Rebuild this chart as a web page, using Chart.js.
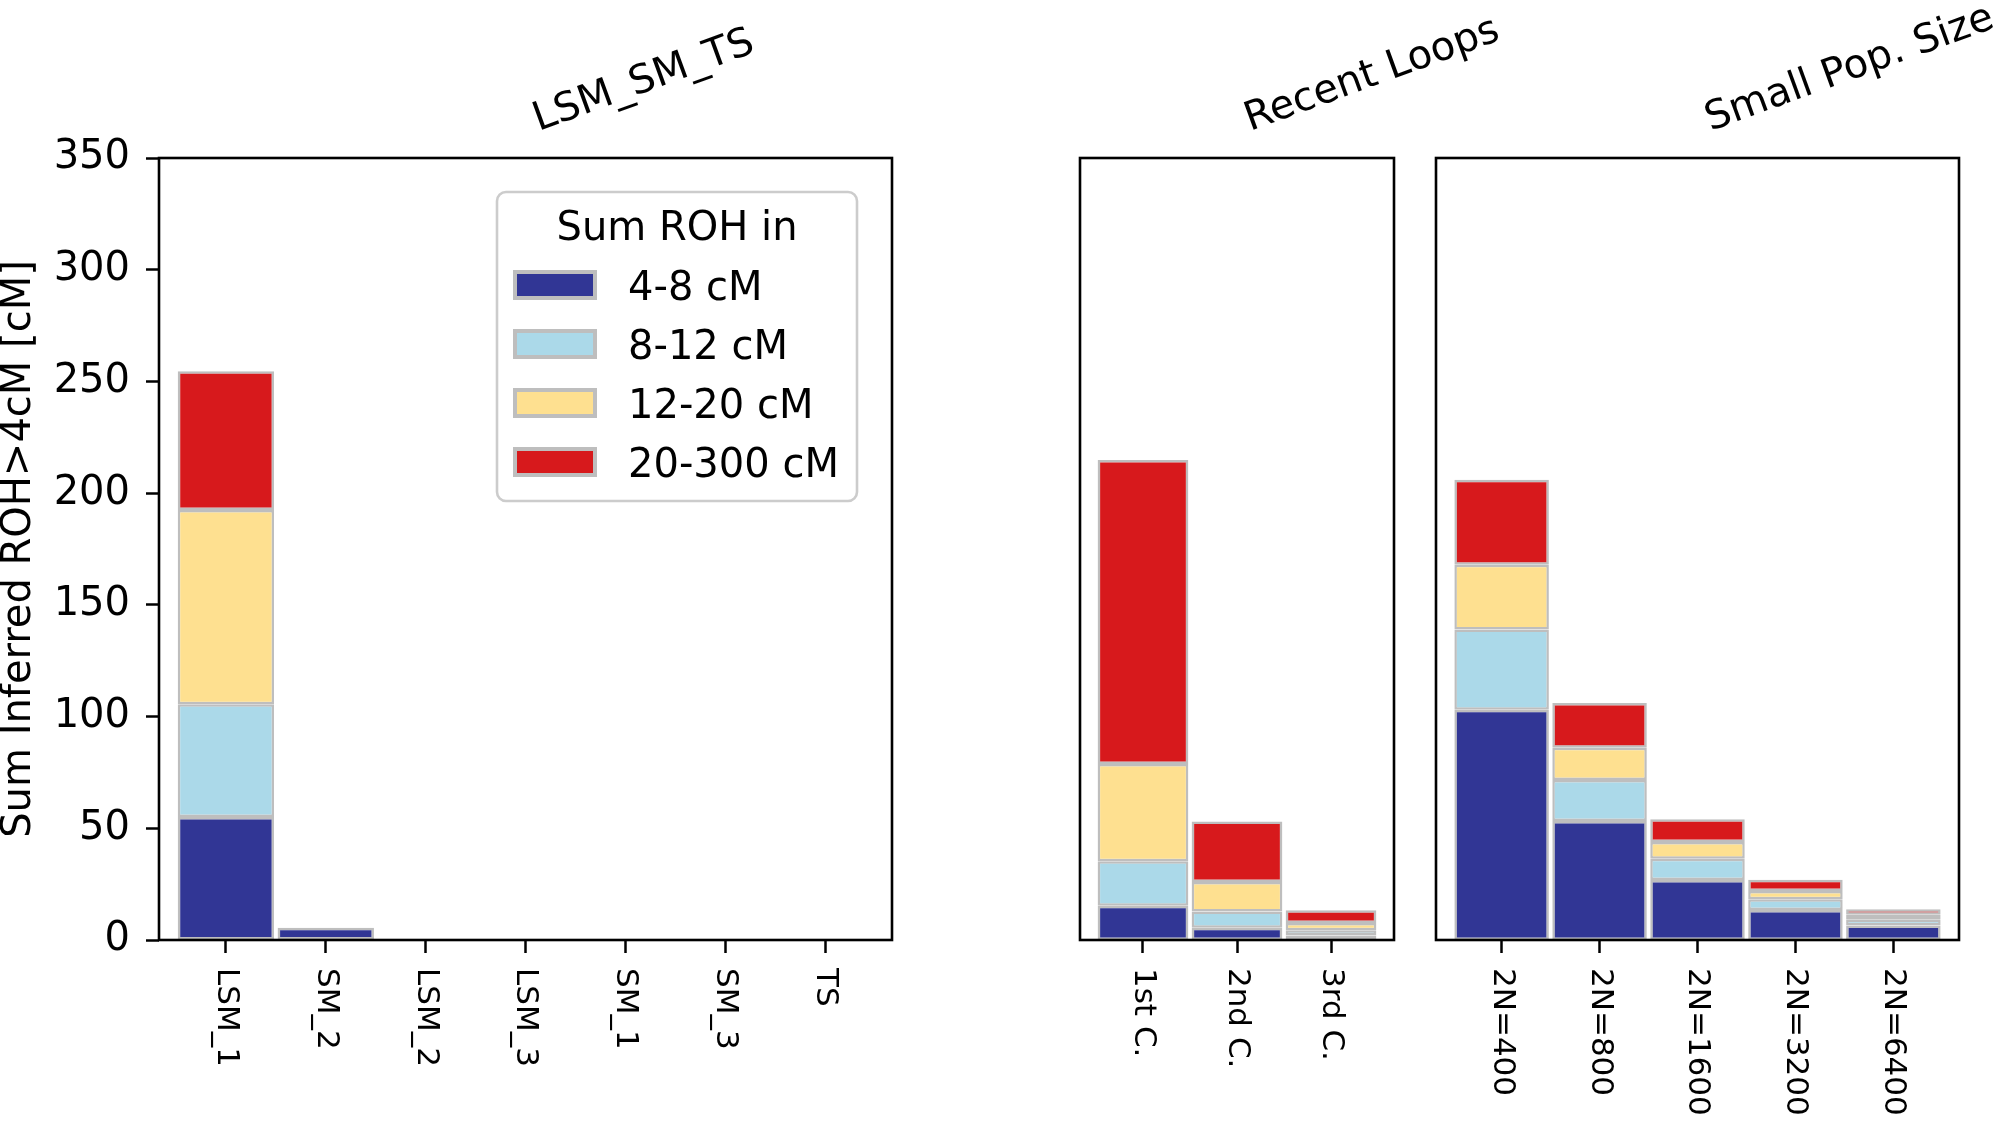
<!DOCTYPE html>
<html>
<head>
<meta charset="utf-8">
<script src="https://cdn.jsdelivr.net/npm/chart.js@4.4.1/dist/chart.umd.min.js"></script>
<style>
html,body{margin:0;padding:0;background:#fff;}
#wrap{position:relative;width:2000px;height:1122px;overflow:hidden;background:#fff;}
#wrap canvas{position:absolute;left:0;top:0;}
</style>
</head>
<body>
<div id="wrap">
  <canvas id="c1" width="2000" height="1122"></canvas>
  <canvas id="c2" width="2000" height="1122"></canvas>
  <canvas id="c3" width="2000" height="1122"></canvas>
</div>
<script>
// ROH length bins (stack order bottom -> top)
const binLabels = ['4-8 cM', '8-12 cM', '12-20 cM', '20-300 cM'];
const binColors = ['#313695', '#abd9e9', '#fee090', '#d7191c'];

// panel 1: LSM_SM_TS
const lsmCats = ['LSM_1', 'SM_2', 'LSM_2', 'LSM_3', 'SM_1', 'SM_3', 'TS'];
const lsm48    = [55,   5.5, 0, 0, 0, 0, 0];
const lsm812   = [50.5, 0,   0, 0, 0, 0, 0];
const lsm1220  = [87,   0,   0, 0, 0, 0, 0];
const lsm20300 = [62,   0,   0, 0, 0, 0, 0];

// panel 2: Recent Loops
const loopCats = ['1st C.', '2nd C.', '3rd C.'];
const loop48    = [15.3, 5.5,  2];
const loop812   = [20,   7.2,  2.4];
const loop1220  = [43.5, 13.3, 3.2];
const loop20300 = [136,  27,   5.7];

// panel 3: Small Pop. Size
const popCats = ['2N=400', '2N=800', '2N=1600', '2N=3200', '2N=6400'];
const pop48    = [103, 53.3, 26.9, 13.4, 6.5];
const pop812   = [36,  18.3, 9.5,  4.8,  2.6];
const pop1220  = [29,  14.5, 7.5,  3.7,  2.2];
const pop20300 = [38,  20,   10.1, 5.1,  2.5];

const yTicks = [0, 50, 100, 150, 200, 250, 300, 350];

const FONT = 'DejaVu Sans';
Chart.defaults.font.family = FONT;
Chart.defaults.color = '#000';

function framePlugin() {
  return {
    id: 'frame',
    afterDraw(chart) {
      const a = chart.chartArea, ctx = chart.ctx;
      ctx.save();
      ctx.strokeStyle = '#000';
      ctx.lineWidth = 2.6;
      ctx.strokeRect(a.left, a.top, a.right - a.left, a.bottom - a.top);
      ctx.restore();
    }
  };
}

function xLabelPlugin(cats) {
  return {
    id: 'xlabels',
    afterDraw(chart) {
      const sx = chart.scales.x, ctx = chart.ctx;
      ctx.save();
      ctx.font = '31px "' + FONT + '"';
      ctx.fillStyle = '#000';
      ctx.textAlign = 'left';
      ctx.textBaseline = 'middle';
      sx.ticks.forEach(t => {
        const x = sx.getPixelForValue(t.value);
        ctx.save();
        ctx.translate(x, chart.chartArea.bottom + 28);
        ctx.rotate(Math.PI / 2);
        ctx.fillText(cats[t.value], 0, 0);
        ctx.restore();
      });
      ctx.restore();
    }
  };
}

function titlePlugin(text) {
  return {
    id: 'paneltitle',
    afterDraw(chart) {
      const a = chart.chartArea, ctx = chart.ctx;
      ctx.save();
      ctx.translate((a.left + a.right) / 2 + 13, 131);
      ctx.rotate(-20 * Math.PI / 180);
      ctx.font = '40px "' + FONT + '"';
      ctx.fillStyle = '#000';
      ctx.textAlign = 'left';
      ctx.textBaseline = 'alphabetic';
      ctx.fillText(text, 0, 0);
      ctx.restore();
    }
  };
}

const legendPlugin = {
  id: 'rohlegend',
  afterDraw(chart) {
    const a = chart.chartArea, ctx = chart.ctx;
    const w = 360, h = 309;
    const x0 = a.right - 35 - w, y0 = a.top + 34;
    ctx.save();
    ctx.beginPath();
    ctx.roundRect(x0, y0, w, h, 9);
    ctx.fillStyle = '#fff';
    ctx.fill();
    ctx.lineWidth = 2.6;
    ctx.strokeStyle = '#cccccc';
    ctx.stroke();
    ctx.font = '40px "' + FONT + '"';
    ctx.fillStyle = '#000';
    ctx.textAlign = 'center';
    ctx.textBaseline = 'alphabetic';
    ctx.fillText('Sum ROH in', x0 + w / 2, y0 + 48);
    chart.data.datasets.forEach((ds, i) => {
      const py = y0 + 78 + 59 * i;
      ctx.fillStyle = ds.backgroundColor;
      ctx.fillRect(x0 + 16, py, 84, 30);
      ctx.strokeStyle = ds.borderColor;
      ctx.lineWidth = 4;
      ctx.strokeRect(x0 + 18, py + 2, 80, 26);
      ctx.fillStyle = '#000';
      ctx.textAlign = 'left';
      ctx.fillText(ds.label, x0 + 131, y0 + 108 + 59 * i);
    });
    ctx.restore();
  }
};

function makePanel(id, title, cats, series, padL, padR, showY, withLegend) {
  const datasets = series.map((vals, k) => ({
    label: binLabels[k],
    data: cats.map((c, i) => ({ x: i, y: vals[i] })),
    backgroundColor: binColors[k],
    borderColor: '#bebebe',
    borderWidth: 2.5,
    borderSkipped: false,
    barPercentage: 0.965,
    categoryPercentage: 1
  }));
  const plugins = [framePlugin(), xLabelPlugin(cats), titlePlugin(title)];
  if (withLegend) plugins.push(legendPlugin);
  return new Chart(document.getElementById(id), {
    type: 'bar',
    data: { datasets },
    plugins,
    options: {
      responsive: false,
      animation: false,
      devicePixelRatio: 1,
      layout: { padding: { left: padL, right: padR, top: 158, bottom: 0 } },
      plugins: { legend: { display: false }, tooltip: { enabled: false } },
      scales: {
        x: {
          type: 'linear',
          stacked: true,
          offset: false,
          min: -0.67,
          max: cats.length - 1 + 0.67,
          afterBuildTicks: s => { s.ticks = cats.map((c, i) => ({ value: i })); },
          grid: { offset: false, drawOnChartArea: false, drawTicks: true, tickLength: 13, tickWidth: 2.5, tickColor: '#000' },
          border: { display: false },
          ticks: { display: false },
          afterFit: s => { s.height = 182; }
        },
        y: {
          type: 'linear',
          stacked: true,
          min: 0,
          max: 350,
          display: showY,
          afterBuildTicks: s => { s.ticks = yTicks.map(v => ({ value: v })); },
          grid: { drawOnChartArea: false, drawTicks: true, tickLength: 13, tickWidth: 2.5, tickColor: '#000' },
          border: { display: false },
          ticks: { color: '#000', font: { family: FONT, size: 40 }, padding: 16 },
          title: {
            display: true,
            text: 'Sum Inferred ROH>4cM [cM]',
            color: '#000',
            font: { family: FONT, size: 40, lineHeight: 1 },
            padding: 0
          },
          afterFit: s => { s.width = showY ? 159 : 0; }
        }
      }
    }
  });
}

makePanel('c1', 'LSM_SM_TS', lsmCats, [lsm48, lsm812, lsm1220, lsm20300], 0, 2000 - 892, true, true);
makePanel('c2', 'Recent Loops', loopCats, [loop48, loop812, loop1220, loop20300], 1080, 2000 - 1394, false, false);
makePanel('c3', 'Small Pop. Size', popCats, [pop48, pop812, pop1220, pop20300], 1436, 2000 - 1959, false, false);
</script>
</body>
</html>
